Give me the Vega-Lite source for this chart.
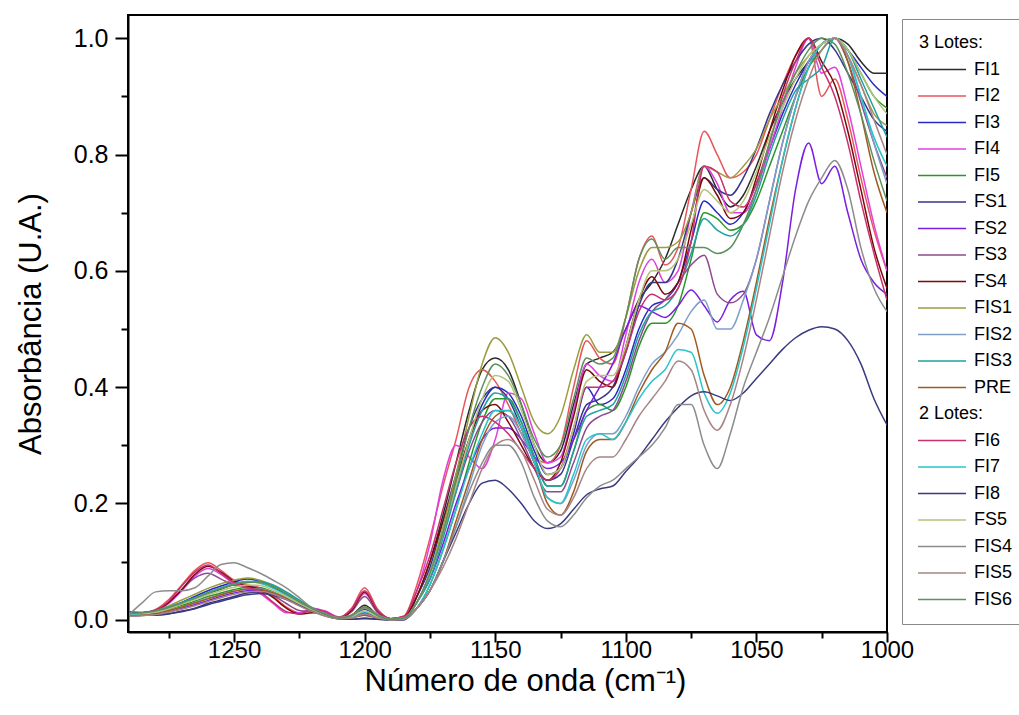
{
"$schema": "https://vega.github.io/schema/vega-lite/v6.json",
"width": 759, "height": 617,
"autosize": {"type": "none"},
"padding": {"left": 128, "top": 15, "right": 132, "bottom": 83},
"background": "white",
"config": {"view": {"stroke": "black", "strokeWidth": 2}, "font": "Liberation Sans"},
"data": {"values": [
{"s":"FI1","x":1290,"y":0.010},{"s":"FI1","x":1285,"y":0.012},{"s":"FI1","x":1280,"y":0.014},{"s":"FI1","x":1275,"y":0.020},{"s":"FI1","x":1270,"y":0.028},{"s":"FI1","x":1265,"y":0.036},{"s":"FI1","x":1260,"y":0.045},{"s":"FI1","x":1255,"y":0.053},{"s":"FI1","x":1250,"y":0.060},{"s":"FI1","x":1245,"y":0.064},{"s":"FI1","x":1240,"y":0.065},{"s":"FI1","x":1235,"y":0.058},{"s":"FI1","x":1230,"y":0.046},{"s":"FI1","x":1225,"y":0.032},{"s":"FI1","x":1220,"y":0.020},{"s":"FI1","x":1215,"y":0.010},{"s":"FI1","x":1210,"y":0.004},{"s":"FI1","x":1205,"y":0.008},{"s":"FI1","x":1200,"y":0.025},{"s":"FI1","x":1195,"y":0.008},{"s":"FI1","x":1190,"y":0.001},{"s":"FI1","x":1185,"y":0.004},{"s":"FI1","x":1180,"y":0.04},{"s":"FI1","x":1175,"y":0.10},{"s":"FI1","x":1170,"y":0.18},{"s":"FI1","x":1165,"y":0.27},{"s":"FI1","x":1160,"y":0.36},{"s":"FI1","x":1155,"y":0.43},{"s":"FI1","x":1150,"y":0.45},{"s":"FI1","x":1145,"y":0.43},{"s":"FI1","x":1140,"y":0.37},{"s":"FI1","x":1135,"y":0.30},{"s":"FI1","x":1130,"y":0.27},{"s":"FI1","x":1125,"y":0.29},{"s":"FI1","x":1120,"y":0.37},{"s":"FI1","x":1115,"y":0.44},{"s":"FI1","x":1110,"y":0.45},{"s":"FI1","x":1105,"y":0.46},{"s":"FI1","x":1100,"y":0.50},{"s":"FI1","x":1095,"y":0.55},{"s":"FI1","x":1090,"y":0.58},{"s":"FI1","x":1085,"y":0.62},{"s":"FI1","x":1080,"y":0.68},{"s":"FI1","x":1075,"y":0.74},{"s":"FI1","x":1070,"y":0.78},{"s":"FI1","x":1065,"y":0.74},{"s":"FI1","x":1060,"y":0.71},{"s":"FI1","x":1055,"y":0.73},{"s":"FI1","x":1050,"y":0.78},{"s":"FI1","x":1045,"y":0.84},{"s":"FI1","x":1040,"y":0.89},{"s":"FI1","x":1035,"y":0.93},{"s":"FI1","x":1030,"y":0.96},{"s":"FI1","x":1025,"y":0.99},{"s":"FI1","x":1020,"y":1.0},{"s":"FI1","x":1015,"y":0.99},{"s":"FI1","x":1010,"y":0.96},{"s":"FI1","x":1005,"y":0.94},{"s":"FI1","x":1000,"y":0.94},
{"s":"FI2","x":1290,"y":0.012},{"s":"FI2","x":1285,"y":0.012},{"s":"FI2","x":1280,"y":0.018},{"s":"FI2","x":1275,"y":0.035},{"s":"FI2","x":1270,"y":0.060},{"s":"FI2","x":1265,"y":0.085},{"s":"FI2","x":1260,"y":0.098},{"s":"FI2","x":1255,"y":0.085},{"s":"FI2","x":1250,"y":0.068},{"s":"FI2","x":1245,"y":0.060},{"s":"FI2","x":1240,"y":0.055},{"s":"FI2","x":1235,"y":0.040},{"s":"FI2","x":1230,"y":0.022},{"s":"FI2","x":1225,"y":0.012},{"s":"FI2","x":1220,"y":0.015},{"s":"FI2","x":1215,"y":0.012},{"s":"FI2","x":1210,"y":0.004},{"s":"FI2","x":1205,"y":0.020},{"s":"FI2","x":1200,"y":0.055},{"s":"FI2","x":1195,"y":0.018},{"s":"FI2","x":1190,"y":0.002},{"s":"FI2","x":1185,"y":0.006},{"s":"FI2","x":1180,"y":0.06},{"s":"FI2","x":1175,"y":0.14},{"s":"FI2","x":1170,"y":0.23},{"s":"FI2","x":1165,"y":0.31},{"s":"FI2","x":1160,"y":0.40},{"s":"FI2","x":1155,"y":0.43},{"s":"FI2","x":1150,"y":0.41},{"s":"FI2","x":1145,"y":0.37},{"s":"FI2","x":1140,"y":0.32},{"s":"FI2","x":1135,"y":0.28},{"s":"FI2","x":1130,"y":0.27},{"s":"FI2","x":1125,"y":0.30},{"s":"FI2","x":1120,"y":0.40},{"s":"FI2","x":1115,"y":0.48},{"s":"FI2","x":1110,"y":0.45},{"s":"FI2","x":1105,"y":0.44},{"s":"FI2","x":1100,"y":0.52},{"s":"FI2","x":1095,"y":0.62},{"s":"FI2","x":1090,"y":0.66},{"s":"FI2","x":1085,"y":0.61},{"s":"FI2","x":1080,"y":0.64},{"s":"FI2","x":1075,"y":0.74},{"s":"FI2","x":1070,"y":0.84},{"s":"FI2","x":1065,"y":0.80},{"s":"FI2","x":1060,"y":0.76},{"s":"FI2","x":1055,"y":0.77},{"s":"FI2","x":1050,"y":0.80},{"s":"FI2","x":1045,"y":0.86},{"s":"FI2","x":1040,"y":0.92},{"s":"FI2","x":1035,"y":0.97},{"s":"FI2","x":1030,"y":1.0},{"s":"FI2","x":1025,"y":0.90},{"s":"FI2","x":1020,"y":0.93},{"s":"FI2","x":1015,"y":0.86},{"s":"FI2","x":1010,"y":0.76},{"s":"FI2","x":1005,"y":0.67},{"s":"FI2","x":1000,"y":0.60},
{"s":"FI3","x":1290,"y":0.008},{"s":"FI3","x":1285,"y":0.010},{"s":"FI3","x":1280,"y":0.015},{"s":"FI3","x":1275,"y":0.022},{"s":"FI3","x":1270,"y":0.030},{"s":"FI3","x":1265,"y":0.040},{"s":"FI3","x":1260,"y":0.050},{"s":"FI3","x":1255,"y":0.058},{"s":"FI3","x":1250,"y":0.065},{"s":"FI3","x":1245,"y":0.070},{"s":"FI3","x":1240,"y":0.066},{"s":"FI3","x":1235,"y":0.056},{"s":"FI3","x":1230,"y":0.044},{"s":"FI3","x":1225,"y":0.030},{"s":"FI3","x":1220,"y":0.018},{"s":"FI3","x":1215,"y":0.008},{"s":"FI3","x":1210,"y":0.003},{"s":"FI3","x":1205,"y":0.006},{"s":"FI3","x":1200,"y":0.018},{"s":"FI3","x":1195,"y":0.006},{"s":"FI3","x":1190,"y":0.001},{"s":"FI3","x":1185,"y":0.003},{"s":"FI3","x":1180,"y":0.03},{"s":"FI3","x":1175,"y":0.08},{"s":"FI3","x":1170,"y":0.15},{"s":"FI3","x":1165,"y":0.23},{"s":"FI3","x":1160,"y":0.31},{"s":"FI3","x":1155,"y":0.37},{"s":"FI3","x":1150,"y":0.40},{"s":"FI3","x":1145,"y":0.39},{"s":"FI3","x":1140,"y":0.35},{"s":"FI3","x":1135,"y":0.29},{"s":"FI3","x":1130,"y":0.25},{"s":"FI3","x":1125,"y":0.26},{"s":"FI3","x":1120,"y":0.32},{"s":"FI3","x":1115,"y":0.40},{"s":"FI3","x":1110,"y":0.37},{"s":"FI3","x":1105,"y":0.38},{"s":"FI3","x":1100,"y":0.43},{"s":"FI3","x":1095,"y":0.50},{"s":"FI3","x":1090,"y":0.54},{"s":"FI3","x":1085,"y":0.55},{"s":"FI3","x":1080,"y":0.58},{"s":"FI3","x":1075,"y":0.65},{"s":"FI3","x":1070,"y":0.72},{"s":"FI3","x":1065,"y":0.70},{"s":"FI3","x":1060,"y":0.68},{"s":"FI3","x":1055,"y":0.70},{"s":"FI3","x":1050,"y":0.75},{"s":"FI3","x":1045,"y":0.81},{"s":"FI3","x":1040,"y":0.87},{"s":"FI3","x":1035,"y":0.92},{"s":"FI3","x":1030,"y":0.96},{"s":"FI3","x":1025,"y":0.99},{"s":"FI3","x":1020,"y":1.0},{"s":"FI3","x":1015,"y":0.98},{"s":"FI3","x":1010,"y":0.95},{"s":"FI3","x":1005,"y":0.92},{"s":"FI3","x":1000,"y":0.90},
{"s":"FI4","x":1290,"y":0.008},{"s":"FI4","x":1285,"y":0.010},{"s":"FI4","x":1280,"y":0.015},{"s":"FI4","x":1275,"y":0.028},{"s":"FI4","x":1270,"y":0.050},{"s":"FI4","x":1265,"y":0.075},{"s":"FI4","x":1260,"y":0.088},{"s":"FI4","x":1255,"y":0.078},{"s":"FI4","x":1250,"y":0.062},{"s":"FI4","x":1245,"y":0.055},{"s":"FI4","x":1240,"y":0.045},{"s":"FI4","x":1235,"y":0.028},{"s":"FI4","x":1230,"y":0.012},{"s":"FI4","x":1225,"y":0.012},{"s":"FI4","x":1220,"y":0.020},{"s":"FI4","x":1215,"y":0.015},{"s":"FI4","x":1210,"y":0.005},{"s":"FI4","x":1205,"y":0.015},{"s":"FI4","x":1200,"y":0.045},{"s":"FI4","x":1195,"y":0.015},{"s":"FI4","x":1190,"y":0.002},{"s":"FI4","x":1185,"y":0.005},{"s":"FI4","x":1180,"y":0.05},{"s":"FI4","x":1175,"y":0.13},{"s":"FI4","x":1170,"y":0.24},{"s":"FI4","x":1165,"y":0.30},{"s":"FI4","x":1160,"y":0.28},{"s":"FI4","x":1155,"y":0.26},{"s":"FI4","x":1150,"y":0.31},{"s":"FI4","x":1145,"y":0.39},{"s":"FI4","x":1140,"y":0.38},{"s":"FI4","x":1135,"y":0.32},{"s":"FI4","x":1130,"y":0.27},{"s":"FI4","x":1125,"y":0.28},{"s":"FI4","x":1120,"y":0.36},{"s":"FI4","x":1115,"y":0.44},{"s":"FI4","x":1110,"y":0.42},{"s":"FI4","x":1105,"y":0.41},{"s":"FI4","x":1100,"y":0.49},{"s":"FI4","x":1095,"y":0.58},{"s":"FI4","x":1090,"y":0.62},{"s":"FI4","x":1085,"y":0.58},{"s":"FI4","x":1080,"y":0.60},{"s":"FI4","x":1075,"y":0.70},{"s":"FI4","x":1070,"y":0.78},{"s":"FI4","x":1065,"y":0.75},{"s":"FI4","x":1060,"y":0.70},{"s":"FI4","x":1055,"y":0.70},{"s":"FI4","x":1050,"y":0.74},{"s":"FI4","x":1045,"y":0.81},{"s":"FI4","x":1040,"y":0.88},{"s":"FI4","x":1035,"y":0.95},{"s":"FI4","x":1030,"y":1.0},{"s":"FI4","x":1025,"y":0.94},{"s":"FI4","x":1020,"y":0.95},{"s":"FI4","x":1015,"y":0.88},{"s":"FI4","x":1010,"y":0.78},{"s":"FI4","x":1005,"y":0.68},{"s":"FI4","x":1000,"y":0.60},
{"s":"FI5","x":1290,"y":0.010},{"s":"FI5","x":1285,"y":0.010},{"s":"FI5","x":1280,"y":0.012},{"s":"FI5","x":1275,"y":0.018},{"s":"FI5","x":1270,"y":0.025},{"s":"FI5","x":1265,"y":0.032},{"s":"FI5","x":1260,"y":0.040},{"s":"FI5","x":1255,"y":0.046},{"s":"FI5","x":1250,"y":0.052},{"s":"FI5","x":1245,"y":0.056},{"s":"FI5","x":1240,"y":0.055},{"s":"FI5","x":1235,"y":0.048},{"s":"FI5","x":1230,"y":0.038},{"s":"FI5","x":1225,"y":0.026},{"s":"FI5","x":1220,"y":0.016},{"s":"FI5","x":1215,"y":0.008},{"s":"FI5","x":1210,"y":0.003},{"s":"FI5","x":1205,"y":0.005},{"s":"FI5","x":1200,"y":0.010},{"s":"FI5","x":1195,"y":0.004},{"s":"FI5","x":1190,"y":0.000},{"s":"FI5","x":1185,"y":0.002},{"s":"FI5","x":1180,"y":0.02},{"s":"FI5","x":1175,"y":0.06},{"s":"FI5","x":1170,"y":0.12},{"s":"FI5","x":1165,"y":0.19},{"s":"FI5","x":1160,"y":0.27},{"s":"FI5","x":1155,"y":0.34},{"s":"FI5","x":1150,"y":0.38},{"s":"FI5","x":1145,"y":0.38},{"s":"FI5","x":1140,"y":0.34},{"s":"FI5","x":1135,"y":0.28},{"s":"FI5","x":1130,"y":0.23},{"s":"FI5","x":1125,"y":0.23},{"s":"FI5","x":1120,"y":0.29},{"s":"FI5","x":1115,"y":0.36},{"s":"FI5","x":1110,"y":0.37},{"s":"FI5","x":1105,"y":0.36},{"s":"FI5","x":1100,"y":0.40},{"s":"FI5","x":1095,"y":0.47},{"s":"FI5","x":1090,"y":0.51},{"s":"FI5","x":1085,"y":0.51},{"s":"FI5","x":1080,"y":0.54},{"s":"FI5","x":1075,"y":0.62},{"s":"FI5","x":1070,"y":0.70},{"s":"FI5","x":1065,"y":0.69},{"s":"FI5","x":1060,"y":0.67},{"s":"FI5","x":1055,"y":0.68},{"s":"FI5","x":1050,"y":0.72},{"s":"FI5","x":1045,"y":0.78},{"s":"FI5","x":1040,"y":0.84},{"s":"FI5","x":1035,"y":0.90},{"s":"FI5","x":1030,"y":0.95},{"s":"FI5","x":1025,"y":0.98},{"s":"FI5","x":1020,"y":1.0},{"s":"FI5","x":1015,"y":0.98},{"s":"FI5","x":1010,"y":0.94},{"s":"FI5","x":1005,"y":0.90},{"s":"FI5","x":1000,"y":0.88},
{"s":"FS1","x":1290,"y":0.012},{"s":"FS1","x":1285,"y":0.010},{"s":"FS1","x":1280,"y":0.008},{"s":"FS1","x":1275,"y":0.010},{"s":"FS1","x":1270,"y":0.015},{"s":"FS1","x":1265,"y":0.020},{"s":"FS1","x":1260,"y":0.028},{"s":"FS1","x":1255,"y":0.034},{"s":"FS1","x":1250,"y":0.040},{"s":"FS1","x":1245,"y":0.046},{"s":"FS1","x":1240,"y":0.048},{"s":"FS1","x":1235,"y":0.044},{"s":"FS1","x":1230,"y":0.036},{"s":"FS1","x":1225,"y":0.026},{"s":"FS1","x":1220,"y":0.016},{"s":"FS1","x":1215,"y":0.008},{"s":"FS1","x":1210,"y":0.002},{"s":"FS1","x":1205,"y":0.001},{"s":"FS1","x":1200,"y":0.003},{"s":"FS1","x":1195,"y":0.001},{"s":"FS1","x":1190,"y":0.000},{"s":"FS1","x":1185,"y":0.000},{"s":"FS1","x":1180,"y":0.04},{"s":"FS1","x":1175,"y":0.09},{"s":"FS1","x":1170,"y":0.17},{"s":"FS1","x":1165,"y":0.25},{"s":"FS1","x":1160,"y":0.33},{"s":"FS1","x":1155,"y":0.38},{"s":"FS1","x":1150,"y":0.40},{"s":"FS1","x":1145,"y":0.38},{"s":"FS1","x":1140,"y":0.33},{"s":"FS1","x":1135,"y":0.27},{"s":"FS1","x":1130,"y":0.24},{"s":"FS1","x":1125,"y":0.25},{"s":"FS1","x":1120,"y":0.31},{"s":"FS1","x":1115,"y":0.37},{"s":"FS1","x":1110,"y":0.38},{"s":"FS1","x":1105,"y":0.40},{"s":"FS1","x":1100,"y":0.46},{"s":"FS1","x":1095,"y":0.54},{"s":"FS1","x":1090,"y":0.58},{"s":"FS1","x":1085,"y":0.58},{"s":"FS1","x":1080,"y":0.62},{"s":"FS1","x":1075,"y":0.70},{"s":"FS1","x":1070,"y":0.76},{"s":"FS1","x":1065,"y":0.74},{"s":"FS1","x":1060,"y":0.73},{"s":"FS1","x":1055,"y":0.76},{"s":"FS1","x":1050,"y":0.81},{"s":"FS1","x":1045,"y":0.87},{"s":"FS1","x":1040,"y":0.92},{"s":"FS1","x":1035,"y":0.96},{"s":"FS1","x":1030,"y":0.99},{"s":"FS1","x":1025,"y":1.0},{"s":"FS1","x":1020,"y":0.98},{"s":"FS1","x":1015,"y":0.94},{"s":"FS1","x":1010,"y":0.90},{"s":"FS1","x":1005,"y":0.86},{"s":"FS1","x":1000,"y":0.84},
{"s":"FS2","x":1290,"y":0.006},{"s":"FS2","x":1285,"y":0.008},{"s":"FS2","x":1280,"y":0.010},{"s":"FS2","x":1275,"y":0.014},{"s":"FS2","x":1270,"y":0.020},{"s":"FS2","x":1265,"y":0.026},{"s":"FS2","x":1260,"y":0.033},{"s":"FS2","x":1255,"y":0.040},{"s":"FS2","x":1250,"y":0.046},{"s":"FS2","x":1245,"y":0.050},{"s":"FS2","x":1240,"y":0.050},{"s":"FS2","x":1235,"y":0.045},{"s":"FS2","x":1230,"y":0.036},{"s":"FS2","x":1225,"y":0.025},{"s":"FS2","x":1220,"y":0.015},{"s":"FS2","x":1215,"y":0.007},{"s":"FS2","x":1210,"y":0.002},{"s":"FS2","x":1205,"y":0.004},{"s":"FS2","x":1200,"y":0.012},{"s":"FS2","x":1195,"y":0.004},{"s":"FS2","x":1190,"y":0.000},{"s":"FS2","x":1185,"y":0.001},{"s":"FS2","x":1180,"y":0.03},{"s":"FS2","x":1175,"y":0.07},{"s":"FS2","x":1170,"y":0.13},{"s":"FS2","x":1165,"y":0.20},{"s":"FS2","x":1160,"y":0.26},{"s":"FS2","x":1155,"y":0.31},{"s":"FS2","x":1150,"y":0.33},{"s":"FS2","x":1145,"y":0.33},{"s":"FS2","x":1140,"y":0.31},{"s":"FS2","x":1135,"y":0.28},{"s":"FS2","x":1130,"y":0.26},{"s":"FS2","x":1125,"y":0.27},{"s":"FS2","x":1120,"y":0.31},{"s":"FS2","x":1115,"y":0.36},{"s":"FS2","x":1110,"y":0.40},{"s":"FS2","x":1105,"y":0.44},{"s":"FS2","x":1100,"y":0.50},{"s":"FS2","x":1095,"y":0.54},{"s":"FS2","x":1090,"y":0.53},{"s":"FS2","x":1085,"y":0.52},{"s":"FS2","x":1080,"y":0.54},{"s":"FS2","x":1075,"y":0.567},{"s":"FS2","x":1070,"y":0.54},{"s":"FS2","x":1065,"y":0.512},{"s":"FS2","x":1060,"y":0.55},{"s":"FS2","x":1055,"y":0.565},{"s":"FS2","x":1050,"y":0.49},{"s":"FS2","x":1045,"y":0.48},{"s":"FS2","x":1040,"y":0.58},{"s":"FS2","x":1035,"y":0.74},{"s":"FS2","x":1030,"y":0.82},{"s":"FS2","x":1025,"y":0.75},{"s":"FS2","x":1020,"y":0.78},{"s":"FS2","x":1015,"y":0.70},{"s":"FS2","x":1010,"y":0.62},{"s":"FS2","x":1005,"y":0.58},{"s":"FS2","x":1000,"y":0.56},
{"s":"FS3","x":1290,"y":0.010},{"s":"FS3","x":1285,"y":0.012},{"s":"FS3","x":1280,"y":0.016},{"s":"FS3","x":1275,"y":0.030},{"s":"FS3","x":1270,"y":0.052},{"s":"FS3","x":1265,"y":0.072},{"s":"FS3","x":1260,"y":0.080},{"s":"FS3","x":1255,"y":0.070},{"s":"FS3","x":1250,"y":0.060},{"s":"FS3","x":1245,"y":0.058},{"s":"FS3","x":1240,"y":0.054},{"s":"FS3","x":1235,"y":0.042},{"s":"FS3","x":1230,"y":0.028},{"s":"FS3","x":1225,"y":0.016},{"s":"FS3","x":1220,"y":0.014},{"s":"FS3","x":1215,"y":0.010},{"s":"FS3","x":1210,"y":0.004},{"s":"FS3","x":1205,"y":0.014},{"s":"FS3","x":1200,"y":0.040},{"s":"FS3","x":1195,"y":0.012},{"s":"FS3","x":1190,"y":0.002},{"s":"FS3","x":1185,"y":0.004},{"s":"FS3","x":1180,"y":0.03},{"s":"FS3","x":1175,"y":0.08},{"s":"FS3","x":1170,"y":0.15},{"s":"FS3","x":1165,"y":0.22},{"s":"FS3","x":1160,"y":0.29},{"s":"FS3","x":1155,"y":0.34},{"s":"FS3","x":1150,"y":0.36},{"s":"FS3","x":1145,"y":0.35},{"s":"FS3","x":1140,"y":0.31},{"s":"FS3","x":1135,"y":0.26},{"s":"FS3","x":1130,"y":0.22},{"s":"FS3","x":1125,"y":0.22},{"s":"FS3","x":1120,"y":0.27},{"s":"FS3","x":1115,"y":0.33},{"s":"FS3","x":1110,"y":0.35},{"s":"FS3","x":1105,"y":0.36},{"s":"FS3","x":1100,"y":0.41},{"s":"FS3","x":1095,"y":0.48},{"s":"FS3","x":1090,"y":0.53},{"s":"FS3","x":1085,"y":0.55},{"s":"FS3","x":1080,"y":0.58},{"s":"FS3","x":1075,"y":0.61},{"s":"FS3","x":1070,"y":0.627},{"s":"FS3","x":1065,"y":0.56},{"s":"FS3","x":1060,"y":0.545},{"s":"FS3","x":1055,"y":0.56},{"s":"FS3","x":1050,"y":0.62},{"s":"FS3","x":1045,"y":0.72},{"s":"FS3","x":1040,"y":0.82},{"s":"FS3","x":1035,"y":0.90},{"s":"FS3","x":1030,"y":0.96},{"s":"FS3","x":1025,"y":0.99},{"s":"FS3","x":1020,"y":1.0},{"s":"FS3","x":1015,"y":0.96},{"s":"FS3","x":1010,"y":0.89},{"s":"FS3","x":1005,"y":0.82},{"s":"FS3","x":1000,"y":0.76},
{"s":"FS4","x":1290,"y":0.010},{"s":"FS4","x":1285,"y":0.012},{"s":"FS4","x":1280,"y":0.016},{"s":"FS4","x":1275,"y":0.030},{"s":"FS4","x":1270,"y":0.052},{"s":"FS4","x":1265,"y":0.078},{"s":"FS4","x":1260,"y":0.092},{"s":"FS4","x":1255,"y":0.082},{"s":"FS4","x":1250,"y":0.066},{"s":"FS4","x":1245,"y":0.058},{"s":"FS4","x":1240,"y":0.052},{"s":"FS4","x":1235,"y":0.038},{"s":"FS4","x":1230,"y":0.020},{"s":"FS4","x":1225,"y":0.010},{"s":"FS4","x":1220,"y":0.012},{"s":"FS4","x":1215,"y":0.010},{"s":"FS4","x":1210,"y":0.003},{"s":"FS4","x":1205,"y":0.016},{"s":"FS4","x":1200,"y":0.048},{"s":"FS4","x":1195,"y":0.015},{"s":"FS4","x":1190,"y":0.002},{"s":"FS4","x":1185,"y":0.005},{"s":"FS4","x":1180,"y":0.04},{"s":"FS4","x":1175,"y":0.10},{"s":"FS4","x":1170,"y":0.17},{"s":"FS4","x":1165,"y":0.24},{"s":"FS4","x":1160,"y":0.31},{"s":"FS4","x":1155,"y":0.36},{"s":"FS4","x":1150,"y":0.37},{"s":"FS4","x":1145,"y":0.34},{"s":"FS4","x":1140,"y":0.30},{"s":"FS4","x":1135,"y":0.26},{"s":"FS4","x":1130,"y":0.24},{"s":"FS4","x":1125,"y":0.27},{"s":"FS4","x":1120,"y":0.35},{"s":"FS4","x":1115,"y":0.43},{"s":"FS4","x":1110,"y":0.41},{"s":"FS4","x":1105,"y":0.40},{"s":"FS4","x":1100,"y":0.47},{"s":"FS4","x":1095,"y":0.55},{"s":"FS4","x":1090,"y":0.59},{"s":"FS4","x":1085,"y":0.56},{"s":"FS4","x":1080,"y":0.58},{"s":"FS4","x":1075,"y":0.67},{"s":"FS4","x":1070,"y":0.76},{"s":"FS4","x":1065,"y":0.73},{"s":"FS4","x":1060,"y":0.69},{"s":"FS4","x":1055,"y":0.70},{"s":"FS4","x":1050,"y":0.76},{"s":"FS4","x":1045,"y":0.84},{"s":"FS4","x":1040,"y":0.91},{"s":"FS4","x":1035,"y":0.97},{"s":"FS4","x":1030,"y":1.0},{"s":"FS4","x":1025,"y":0.96},{"s":"FS4","x":1020,"y":0.92},{"s":"FS4","x":1015,"y":0.84},{"s":"FS4","x":1010,"y":0.74},{"s":"FS4","x":1005,"y":0.64},{"s":"FS4","x":1000,"y":0.57},
{"s":"FIS1","x":1290,"y":0.010},{"s":"FIS1","x":1285,"y":0.012},{"s":"FIS1","x":1280,"y":0.016},{"s":"FIS1","x":1275,"y":0.024},{"s":"FIS1","x":1270,"y":0.034},{"s":"FIS1","x":1265,"y":0.044},{"s":"FIS1","x":1260,"y":0.054},{"s":"FIS1","x":1255,"y":0.062},{"s":"FIS1","x":1250,"y":0.068},{"s":"FIS1","x":1245,"y":0.072},{"s":"FIS1","x":1240,"y":0.068},{"s":"FIS1","x":1235,"y":0.058},{"s":"FIS1","x":1230,"y":0.046},{"s":"FIS1","x":1225,"y":0.032},{"s":"FIS1","x":1220,"y":0.020},{"s":"FIS1","x":1215,"y":0.010},{"s":"FIS1","x":1210,"y":0.004},{"s":"FIS1","x":1205,"y":0.008},{"s":"FIS1","x":1200,"y":0.022},{"s":"FIS1","x":1195,"y":0.008},{"s":"FIS1","x":1190,"y":0.001},{"s":"FIS1","x":1185,"y":0.003},{"s":"FIS1","x":1180,"y":0.03},{"s":"FIS1","x":1175,"y":0.08},{"s":"FIS1","x":1170,"y":0.16},{"s":"FIS1","x":1165,"y":0.25},{"s":"FIS1","x":1160,"y":0.35},{"s":"FIS1","x":1155,"y":0.44},{"s":"FIS1","x":1150,"y":0.485},{"s":"FIS1","x":1145,"y":0.46},{"s":"FIS1","x":1140,"y":0.40},{"s":"FIS1","x":1135,"y":0.34},{"s":"FIS1","x":1130,"y":0.32},{"s":"FIS1","x":1125,"y":0.35},{"s":"FIS1","x":1120,"y":0.43},{"s":"FIS1","x":1115,"y":0.49},{"s":"FIS1","x":1110,"y":0.46},{"s":"FIS1","x":1105,"y":0.46},{"s":"FIS1","x":1100,"y":0.52},{"s":"FIS1","x":1095,"y":0.60},{"s":"FIS1","x":1090,"y":0.64},{"s":"FIS1","x":1085,"y":0.64},{"s":"FIS1","x":1080,"y":0.65},{"s":"FIS1","x":1075,"y":0.70},{"s":"FIS1","x":1070,"y":0.78},{"s":"FIS1","x":1065,"y":0.77},{"s":"FIS1","x":1060,"y":0.76},{"s":"FIS1","x":1055,"y":0.78},{"s":"FIS1","x":1050,"y":0.81},{"s":"FIS1","x":1045,"y":0.86},{"s":"FIS1","x":1040,"y":0.90},{"s":"FIS1","x":1035,"y":0.94},{"s":"FIS1","x":1030,"y":0.97},{"s":"FIS1","x":1025,"y":0.99},{"s":"FIS1","x":1020,"y":1.0},{"s":"FIS1","x":1015,"y":0.97},{"s":"FIS1","x":1010,"y":0.92},{"s":"FIS1","x":1005,"y":0.87},{"s":"FIS1","x":1000,"y":0.85},
{"s":"FIS2","x":1290,"y":0.008},{"s":"FIS2","x":1285,"y":0.009},{"s":"FIS2","x":1280,"y":0.011},{"s":"FIS2","x":1275,"y":0.016},{"s":"FIS2","x":1270,"y":0.022},{"s":"FIS2","x":1265,"y":0.030},{"s":"FIS2","x":1260,"y":0.037},{"s":"FIS2","x":1255,"y":0.043},{"s":"FIS2","x":1250,"y":0.049},{"s":"FIS2","x":1245,"y":0.053},{"s":"FIS2","x":1240,"y":0.053},{"s":"FIS2","x":1235,"y":0.047},{"s":"FIS2","x":1230,"y":0.038},{"s":"FIS2","x":1225,"y":0.027},{"s":"FIS2","x":1220,"y":0.017},{"s":"FIS2","x":1215,"y":0.009},{"s":"FIS2","x":1210,"y":0.003},{"s":"FIS2","x":1205,"y":0.004},{"s":"FIS2","x":1200,"y":0.008},{"s":"FIS2","x":1195,"y":0.003},{"s":"FIS2","x":1190,"y":0.000},{"s":"FIS2","x":1185,"y":0.001},{"s":"FIS2","x":1180,"y":0.02},{"s":"FIS2","x":1175,"y":0.05},{"s":"FIS2","x":1170,"y":0.10},{"s":"FIS2","x":1165,"y":0.16},{"s":"FIS2","x":1160,"y":0.23},{"s":"FIS2","x":1155,"y":0.30},{"s":"FIS2","x":1150,"y":0.34},{"s":"FIS2","x":1145,"y":0.35},{"s":"FIS2","x":1140,"y":0.32},{"s":"FIS2","x":1135,"y":0.27},{"s":"FIS2","x":1130,"y":0.21},{"s":"FIS2","x":1125,"y":0.20},{"s":"FIS2","x":1120,"y":0.24},{"s":"FIS2","x":1115,"y":0.30},{"s":"FIS2","x":1110,"y":0.32},{"s":"FIS2","x":1105,"y":0.32},{"s":"FIS2","x":1100,"y":0.35},{"s":"FIS2","x":1095,"y":0.40},{"s":"FIS2","x":1090,"y":0.44},{"s":"FIS2","x":1085,"y":0.46},{"s":"FIS2","x":1080,"y":0.49},{"s":"FIS2","x":1075,"y":0.53},{"s":"FIS2","x":1070,"y":0.55},{"s":"FIS2","x":1065,"y":0.50},{"s":"FIS2","x":1060,"y":0.50},{"s":"FIS2","x":1055,"y":0.55},{"s":"FIS2","x":1050,"y":0.62},{"s":"FIS2","x":1045,"y":0.72},{"s":"FIS2","x":1040,"y":0.82},{"s":"FIS2","x":1035,"y":0.90},{"s":"FIS2","x":1030,"y":0.96},{"s":"FIS2","x":1025,"y":0.99},{"s":"FIS2","x":1020,"y":1.0},{"s":"FIS2","x":1015,"y":0.97},{"s":"FIS2","x":1010,"y":0.90},{"s":"FIS2","x":1005,"y":0.82},{"s":"FIS2","x":1000,"y":0.75},
{"s":"FIS3","x":1290,"y":0.012},{"s":"FIS3","x":1285,"y":0.013},{"s":"FIS3","x":1280,"y":0.016},{"s":"FIS3","x":1275,"y":0.022},{"s":"FIS3","x":1270,"y":0.030},{"s":"FIS3","x":1265,"y":0.038},{"s":"FIS3","x":1260,"y":0.047},{"s":"FIS3","x":1255,"y":0.055},{"s":"FIS3","x":1250,"y":0.062},{"s":"FIS3","x":1245,"y":0.066},{"s":"FIS3","x":1240,"y":0.066},{"s":"FIS3","x":1235,"y":0.060},{"s":"FIS3","x":1230,"y":0.048},{"s":"FIS3","x":1225,"y":0.034},{"s":"FIS3","x":1220,"y":0.021},{"s":"FIS3","x":1215,"y":0.011},{"s":"FIS3","x":1210,"y":0.004},{"s":"FIS3","x":1205,"y":0.007},{"s":"FIS3","x":1200,"y":0.020},{"s":"FIS3","x":1195,"y":0.007},{"s":"FIS3","x":1190,"y":0.001},{"s":"FIS3","x":1185,"y":0.003},{"s":"FIS3","x":1180,"y":0.03},{"s":"FIS3","x":1175,"y":0.07},{"s":"FIS3","x":1170,"y":0.14},{"s":"FIS3","x":1165,"y":0.22},{"s":"FIS3","x":1160,"y":0.30},{"s":"FIS3","x":1155,"y":0.36},{"s":"FIS3","x":1150,"y":0.39},{"s":"FIS3","x":1145,"y":0.38},{"s":"FIS3","x":1140,"y":0.34},{"s":"FIS3","x":1135,"y":0.28},{"s":"FIS3","x":1130,"y":0.23},{"s":"FIS3","x":1125,"y":0.23},{"s":"FIS3","x":1120,"y":0.29},{"s":"FIS3","x":1115,"y":0.35},{"s":"FIS3","x":1110,"y":0.36},{"s":"FIS3","x":1105,"y":0.37},{"s":"FIS3","x":1100,"y":0.42},{"s":"FIS3","x":1095,"y":0.49},{"s":"FIS3","x":1090,"y":0.53},{"s":"FIS3","x":1085,"y":0.54},{"s":"FIS3","x":1080,"y":0.57},{"s":"FIS3","x":1075,"y":0.63},{"s":"FIS3","x":1070,"y":0.69},{"s":"FIS3","x":1065,"y":0.67},{"s":"FIS3","x":1060,"y":0.66},{"s":"FIS3","x":1055,"y":0.68},{"s":"FIS3","x":1050,"y":0.73},{"s":"FIS3","x":1045,"y":0.80},{"s":"FIS3","x":1040,"y":0.86},{"s":"FIS3","x":1035,"y":0.91},{"s":"FIS3","x":1030,"y":0.93},{"s":"FIS3","x":1025,"y":0.95},{"s":"FIS3","x":1020,"y":1.0},{"s":"FIS3","x":1015,"y":0.98},{"s":"FIS3","x":1010,"y":0.93},{"s":"FIS3","x":1005,"y":0.88},{"s":"FIS3","x":1000,"y":0.83},
{"s":"PRE","x":1290,"y":0.007},{"s":"PRE","x":1285,"y":0.009},{"s":"PRE","x":1280,"y":0.011},{"s":"PRE","x":1275,"y":0.016},{"s":"PRE","x":1270,"y":0.022},{"s":"PRE","x":1265,"y":0.029},{"s":"PRE","x":1260,"y":0.036},{"s":"PRE","x":1255,"y":0.043},{"s":"PRE","x":1250,"y":0.049},{"s":"PRE","x":1245,"y":0.053},{"s":"PRE","x":1240,"y":0.052},{"s":"PRE","x":1235,"y":0.046},{"s":"PRE","x":1230,"y":0.037},{"s":"PRE","x":1225,"y":0.026},{"s":"PRE","x":1220,"y":0.016},{"s":"PRE","x":1215,"y":0.008},{"s":"PRE","x":1210,"y":0.002},{"s":"PRE","x":1205,"y":0.003},{"s":"PRE","x":1200,"y":0.008},{"s":"PRE","x":1195,"y":0.003},{"s":"PRE","x":1190,"y":0.000},{"s":"PRE","x":1185,"y":0.001},{"s":"PRE","x":1180,"y":0.02},{"s":"PRE","x":1175,"y":0.05},{"s":"PRE","x":1170,"y":0.10},{"s":"PRE","x":1165,"y":0.17},{"s":"PRE","x":1160,"y":0.24},{"s":"PRE","x":1155,"y":0.31},{"s":"PRE","x":1150,"y":0.35},{"s":"PRE","x":1145,"y":0.36},{"s":"PRE","x":1140,"y":0.33},{"s":"PRE","x":1135,"y":0.27},{"s":"PRE","x":1130,"y":0.20},{"s":"PRE","x":1125,"y":0.18},{"s":"PRE","x":1120,"y":0.22},{"s":"PRE","x":1115,"y":0.29},{"s":"PRE","x":1110,"y":0.31},{"s":"PRE","x":1105,"y":0.31},{"s":"PRE","x":1100,"y":0.34},{"s":"PRE","x":1095,"y":0.39},{"s":"PRE","x":1090,"y":0.43},{"s":"PRE","x":1085,"y":0.46},{"s":"PRE","x":1080,"y":0.51},{"s":"PRE","x":1075,"y":0.50},{"s":"PRE","x":1070,"y":0.42},{"s":"PRE","x":1065,"y":0.37},{"s":"PRE","x":1060,"y":0.40},{"s":"PRE","x":1055,"y":0.48},{"s":"PRE","x":1050,"y":0.58},{"s":"PRE","x":1045,"y":0.69},{"s":"PRE","x":1040,"y":0.79},{"s":"PRE","x":1035,"y":0.88},{"s":"PRE","x":1030,"y":0.95},{"s":"PRE","x":1025,"y":0.99},{"s":"PRE","x":1020,"y":1.0},{"s":"PRE","x":1015,"y":0.96},{"s":"PRE","x":1010,"y":0.87},{"s":"PRE","x":1005,"y":0.77},{"s":"PRE","x":1000,"y":0.70},
{"s":"FI6","x":1290,"y":0.010},{"s":"FI6","x":1285,"y":0.012},{"s":"FI6","x":1280,"y":0.017},{"s":"FI6","x":1275,"y":0.032},{"s":"FI6","x":1270,"y":0.058},{"s":"FI6","x":1265,"y":0.082},{"s":"FI6","x":1260,"y":0.094},{"s":"FI6","x":1255,"y":0.080},{"s":"FI6","x":1250,"y":0.064},{"s":"FI6","x":1245,"y":0.056},{"s":"FI6","x":1240,"y":0.048},{"s":"FI6","x":1235,"y":0.030},{"s":"FI6","x":1230,"y":0.014},{"s":"FI6","x":1225,"y":0.010},{"s":"FI6","x":1220,"y":0.018},{"s":"FI6","x":1215,"y":0.014},{"s":"FI6","x":1210,"y":0.004},{"s":"FI6","x":1205,"y":0.018},{"s":"FI6","x":1200,"y":0.050},{"s":"FI6","x":1195,"y":0.016},{"s":"FI6","x":1190,"y":0.002},{"s":"FI6","x":1185,"y":0.006},{"s":"FI6","x":1180,"y":0.05},{"s":"FI6","x":1175,"y":0.11},{"s":"FI6","x":1170,"y":0.19},{"s":"FI6","x":1165,"y":0.27},{"s":"FI6","x":1160,"y":0.33},{"s":"FI6","x":1155,"y":0.35},{"s":"FI6","x":1150,"y":0.34},{"s":"FI6","x":1145,"y":0.32},{"s":"FI6","x":1140,"y":0.29},{"s":"FI6","x":1135,"y":0.26},{"s":"FI6","x":1130,"y":0.24},{"s":"FI6","x":1125,"y":0.26},{"s":"FI6","x":1120,"y":0.33},{"s":"FI6","x":1115,"y":0.40},{"s":"FI6","x":1110,"y":0.40},{"s":"FI6","x":1105,"y":0.41},{"s":"FI6","x":1100,"y":0.46},{"s":"FI6","x":1095,"y":0.53},{"s":"FI6","x":1090,"y":0.56},{"s":"FI6","x":1085,"y":0.55},{"s":"FI6","x":1080,"y":0.57},{"s":"FI6","x":1075,"y":0.65},{"s":"FI6","x":1070,"y":0.78},{"s":"FI6","x":1065,"y":0.77},{"s":"FI6","x":1060,"y":0.72},{"s":"FI6","x":1055,"y":0.71},{"s":"FI6","x":1050,"y":0.75},{"s":"FI6","x":1045,"y":0.82},{"s":"FI6","x":1040,"y":0.90},{"s":"FI6","x":1035,"y":0.96},{"s":"FI6","x":1030,"y":1.0},{"s":"FI6","x":1025,"y":0.95},{"s":"FI6","x":1020,"y":0.90},{"s":"FI6","x":1015,"y":0.82},{"s":"FI6","x":1010,"y":0.72},{"s":"FI6","x":1005,"y":0.63},{"s":"FI6","x":1000,"y":0.55},
{"s":"FI7","x":1290,"y":0.009},{"s":"FI7","x":1285,"y":0.011},{"s":"FI7","x":1280,"y":0.014},{"s":"FI7","x":1275,"y":0.020},{"s":"FI7","x":1270,"y":0.028},{"s":"FI7","x":1265,"y":0.037},{"s":"FI7","x":1260,"y":0.046},{"s":"FI7","x":1255,"y":0.054},{"s":"FI7","x":1250,"y":0.061},{"s":"FI7","x":1245,"y":0.066},{"s":"FI7","x":1240,"y":0.063},{"s":"FI7","x":1235,"y":0.054},{"s":"FI7","x":1230,"y":0.042},{"s":"FI7","x":1225,"y":0.029},{"s":"FI7","x":1220,"y":0.017},{"s":"FI7","x":1215,"y":0.008},{"s":"FI7","x":1210,"y":0.003},{"s":"FI7","x":1205,"y":0.005},{"s":"FI7","x":1200,"y":0.014},{"s":"FI7","x":1195,"y":0.005},{"s":"FI7","x":1190,"y":0.001},{"s":"FI7","x":1185,"y":0.002},{"s":"FI7","x":1180,"y":0.02},{"s":"FI7","x":1175,"y":0.06},{"s":"FI7","x":1170,"y":0.12},{"s":"FI7","x":1165,"y":0.19},{"s":"FI7","x":1160,"y":0.26},{"s":"FI7","x":1155,"y":0.32},{"s":"FI7","x":1150,"y":0.36},{"s":"FI7","x":1145,"y":0.36},{"s":"FI7","x":1140,"y":0.33},{"s":"FI7","x":1135,"y":0.27},{"s":"FI7","x":1130,"y":0.21},{"s":"FI7","x":1125,"y":0.20},{"s":"FI7","x":1120,"y":0.25},{"s":"FI7","x":1115,"y":0.31},{"s":"FI7","x":1110,"y":0.32},{"s":"FI7","x":1105,"y":0.31},{"s":"FI7","x":1100,"y":0.34},{"s":"FI7","x":1095,"y":0.38},{"s":"FI7","x":1090,"y":0.41},{"s":"FI7","x":1085,"y":0.43},{"s":"FI7","x":1080,"y":0.465},{"s":"FI7","x":1075,"y":0.46},{"s":"FI7","x":1070,"y":0.39},{"s":"FI7","x":1065,"y":0.355},{"s":"FI7","x":1060,"y":0.39},{"s":"FI7","x":1055,"y":0.47},{"s":"FI7","x":1050,"y":0.57},{"s":"FI7","x":1045,"y":0.68},{"s":"FI7","x":1040,"y":0.79},{"s":"FI7","x":1035,"y":0.88},{"s":"FI7","x":1030,"y":0.95},{"s":"FI7","x":1025,"y":0.99},{"s":"FI7","x":1020,"y":1.0},{"s":"FI7","x":1015,"y":0.97},{"s":"FI7","x":1010,"y":0.90},{"s":"FI7","x":1005,"y":0.83},{"s":"FI7","x":1000,"y":0.78},
{"s":"FI8","x":1290,"y":0.014},{"s":"FI8","x":1285,"y":0.012},{"s":"FI8","x":1280,"y":0.010},{"s":"FI8","x":1275,"y":0.011},{"s":"FI8","x":1270,"y":0.014},{"s":"FI8","x":1265,"y":0.019},{"s":"FI8","x":1260,"y":0.026},{"s":"FI8","x":1255,"y":0.032},{"s":"FI8","x":1250,"y":0.038},{"s":"FI8","x":1245,"y":0.043},{"s":"FI8","x":1240,"y":0.045},{"s":"FI8","x":1235,"y":0.042},{"s":"FI8","x":1230,"y":0.035},{"s":"FI8","x":1225,"y":0.025},{"s":"FI8","x":1220,"y":0.015},{"s":"FI8","x":1215,"y":0.007},{"s":"FI8","x":1210,"y":0.002},{"s":"FI8","x":1205,"y":0.001},{"s":"FI8","x":1200,"y":0.002},{"s":"FI8","x":1195,"y":0.001},{"s":"FI8","x":1190,"y":0.000},{"s":"FI8","x":1185,"y":0.000},{"s":"FI8","x":1180,"y":0.02},{"s":"FI8","x":1175,"y":0.05},{"s":"FI8","x":1170,"y":0.10},{"s":"FI8","x":1165,"y":0.15},{"s":"FI8","x":1160,"y":0.20},{"s":"FI8","x":1155,"y":0.235},{"s":"FI8","x":1150,"y":0.24},{"s":"FI8","x":1145,"y":0.225},{"s":"FI8","x":1140,"y":0.20},{"s":"FI8","x":1135,"y":0.17},{"s":"FI8","x":1130,"y":0.157},{"s":"FI8","x":1125,"y":0.165},{"s":"FI8","x":1120,"y":0.19},{"s":"FI8","x":1115,"y":0.215},{"s":"FI8","x":1110,"y":0.225},{"s":"FI8","x":1105,"y":0.23},{"s":"FI8","x":1100,"y":0.255},{"s":"FI8","x":1095,"y":0.28},{"s":"FI8","x":1090,"y":0.31},{"s":"FI8","x":1085,"y":0.34},{"s":"FI8","x":1080,"y":0.365},{"s":"FI8","x":1075,"y":0.385},{"s":"FI8","x":1070,"y":0.392},{"s":"FI8","x":1065,"y":0.385},{"s":"FI8","x":1060,"y":0.377},{"s":"FI8","x":1055,"y":0.39},{"s":"FI8","x":1050,"y":0.415},{"s":"FI8","x":1045,"y":0.44},{"s":"FI8","x":1040,"y":0.465},{"s":"FI8","x":1035,"y":0.485},{"s":"FI8","x":1030,"y":0.498},{"s":"FI8","x":1025,"y":0.504},{"s":"FI8","x":1020,"y":0.50},{"s":"FI8","x":1015,"y":0.48},{"s":"FI8","x":1010,"y":0.44},{"s":"FI8","x":1005,"y":0.38},{"s":"FI8","x":1000,"y":0.335},
{"s":"FS5","x":1290,"y":0.011},{"s":"FS5","x":1285,"y":0.011},{"s":"FS5","x":1280,"y":0.013},{"s":"FS5","x":1275,"y":0.019},{"s":"FS5","x":1270,"y":0.027},{"s":"FS5","x":1265,"y":0.035},{"s":"FS5","x":1260,"y":0.043},{"s":"FS5","x":1255,"y":0.050},{"s":"FS5","x":1250,"y":0.056},{"s":"FS5","x":1245,"y":0.060},{"s":"FS5","x":1240,"y":0.059},{"s":"FS5","x":1235,"y":0.051},{"s":"FS5","x":1230,"y":0.040},{"s":"FS5","x":1225,"y":0.028},{"s":"FS5","x":1220,"y":0.017},{"s":"FS5","x":1215,"y":0.008},{"s":"FS5","x":1210,"y":0.003},{"s":"FS5","x":1205,"y":0.006},{"s":"FS5","x":1200,"y":0.015},{"s":"FS5","x":1195,"y":0.005},{"s":"FS5","x":1190,"y":0.000},{"s":"FS5","x":1185,"y":0.002},{"s":"FS5","x":1180,"y":0.03},{"s":"FS5","x":1175,"y":0.08},{"s":"FS5","x":1170,"y":0.15},{"s":"FS5","x":1165,"y":0.23},{"s":"FS5","x":1160,"y":0.31},{"s":"FS5","x":1155,"y":0.38},{"s":"FS5","x":1150,"y":0.42},{"s":"FS5","x":1145,"y":0.41},{"s":"FS5","x":1140,"y":0.36},{"s":"FS5","x":1135,"y":0.30},{"s":"FS5","x":1130,"y":0.25},{"s":"FS5","x":1125,"y":0.26},{"s":"FS5","x":1120,"y":0.33},{"s":"FS5","x":1115,"y":0.41},{"s":"FS5","x":1110,"y":0.42},{"s":"FS5","x":1105,"y":0.42},{"s":"FS5","x":1100,"y":0.47},{"s":"FS5","x":1095,"y":0.55},{"s":"FS5","x":1090,"y":0.60},{"s":"FS5","x":1085,"y":0.60},{"s":"FS5","x":1080,"y":0.62},{"s":"FS5","x":1075,"y":0.68},{"s":"FS5","x":1070,"y":0.74},{"s":"FS5","x":1065,"y":0.72},{"s":"FS5","x":1060,"y":0.70},{"s":"FS5","x":1055,"y":0.72},{"s":"FS5","x":1050,"y":0.77},{"s":"FS5","x":1045,"y":0.83},{"s":"FS5","x":1040,"y":0.88},{"s":"FS5","x":1035,"y":0.93},{"s":"FS5","x":1030,"y":0.97},{"s":"FS5","x":1025,"y":0.99},{"s":"FS5","x":1020,"y":1.0},{"s":"FS5","x":1015,"y":0.98},{"s":"FS5","x":1010,"y":0.94},{"s":"FS5","x":1005,"y":0.90},{"s":"FS5","x":1000,"y":0.87},
{"s":"FIS4","x":1290,"y":0.010},{"s":"FIS4","x":1285,"y":0.030},{"s":"FIS4","x":1280,"y":0.048},{"s":"FIS4","x":1275,"y":0.050},{"s":"FIS4","x":1270,"y":0.050},{"s":"FIS4","x":1265,"y":0.055},{"s":"FIS4","x":1260,"y":0.075},{"s":"FIS4","x":1255,"y":0.095},{"s":"FIS4","x":1250,"y":0.098},{"s":"FIS4","x":1245,"y":0.090},{"s":"FIS4","x":1240,"y":0.080},{"s":"FIS4","x":1235,"y":0.068},{"s":"FIS4","x":1230,"y":0.055},{"s":"FIS4","x":1225,"y":0.038},{"s":"FIS4","x":1220,"y":0.020},{"s":"FIS4","x":1215,"y":0.010},{"s":"FIS4","x":1210,"y":0.004},{"s":"FIS4","x":1205,"y":0.008},{"s":"FIS4","x":1200,"y":0.020},{"s":"FIS4","x":1195,"y":0.008},{"s":"FIS4","x":1190,"y":0.002},{"s":"FIS4","x":1185,"y":0.004},{"s":"FIS4","x":1180,"y":0.02},{"s":"FIS4","x":1175,"y":0.05},{"s":"FIS4","x":1170,"y":0.10},{"s":"FIS4","x":1165,"y":0.16},{"s":"FIS4","x":1160,"y":0.22},{"s":"FIS4","x":1155,"y":0.27},{"s":"FIS4","x":1150,"y":0.30},{"s":"FIS4","x":1145,"y":0.30},{"s":"FIS4","x":1140,"y":0.27},{"s":"FIS4","x":1135,"y":0.21},{"s":"FIS4","x":1130,"y":0.17},{"s":"FIS4","x":1125,"y":0.16},{"s":"FIS4","x":1120,"y":0.18},{"s":"FIS4","x":1115,"y":0.21},{"s":"FIS4","x":1110,"y":0.23},{"s":"FIS4","x":1105,"y":0.24},{"s":"FIS4","x":1100,"y":0.26},{"s":"FIS4","x":1095,"y":0.28},{"s":"FIS4","x":1090,"y":0.30},{"s":"FIS4","x":1085,"y":0.33},{"s":"FIS4","x":1080,"y":0.37},{"s":"FIS4","x":1075,"y":0.37},{"s":"FIS4","x":1070,"y":0.30},{"s":"FIS4","x":1065,"y":0.26},{"s":"FIS4","x":1060,"y":0.32},{"s":"FIS4","x":1055,"y":0.40},{"s":"FIS4","x":1050,"y":0.46},{"s":"FIS4","x":1045,"y":0.52},{"s":"FIS4","x":1040,"y":0.59},{"s":"FIS4","x":1035,"y":0.66},{"s":"FIS4","x":1030,"y":0.72},{"s":"FIS4","x":1025,"y":0.76},{"s":"FIS4","x":1020,"y":0.79},{"s":"FIS4","x":1015,"y":0.74},{"s":"FIS4","x":1010,"y":0.64},{"s":"FIS4","x":1005,"y":0.57},{"s":"FIS4","x":1000,"y":0.53},
{"s":"FIS5","x":1290,"y":0.006},{"s":"FIS5","x":1285,"y":0.007},{"s":"FIS5","x":1280,"y":0.009},{"s":"FIS5","x":1275,"y":0.013},{"s":"FIS5","x":1270,"y":0.018},{"s":"FIS5","x":1265,"y":0.024},{"s":"FIS5","x":1260,"y":0.031},{"s":"FIS5","x":1255,"y":0.038},{"s":"FIS5","x":1250,"y":0.044},{"s":"FIS5","x":1245,"y":0.048},{"s":"FIS5","x":1240,"y":0.049},{"s":"FIS5","x":1235,"y":0.044},{"s":"FIS5","x":1230,"y":0.035},{"s":"FIS5","x":1225,"y":0.024},{"s":"FIS5","x":1220,"y":0.014},{"s":"FIS5","x":1215,"y":0.006},{"s":"FIS5","x":1210,"y":0.002},{"s":"FIS5","x":1205,"y":0.003},{"s":"FIS5","x":1200,"y":0.010},{"s":"FIS5","x":1195,"y":0.003},{"s":"FIS5","x":1190,"y":0.000},{"s":"FIS5","x":1185,"y":0.001},{"s":"FIS5","x":1180,"y":0.02},{"s":"FIS5","x":1175,"y":0.05},{"s":"FIS5","x":1170,"y":0.09},{"s":"FIS5","x":1165,"y":0.14},{"s":"FIS5","x":1160,"y":0.20},{"s":"FIS5","x":1155,"y":0.26},{"s":"FIS5","x":1150,"y":0.30},{"s":"FIS5","x":1145,"y":0.31},{"s":"FIS5","x":1140,"y":0.29},{"s":"FIS5","x":1135,"y":0.24},{"s":"FIS5","x":1130,"y":0.19},{"s":"FIS5","x":1125,"y":0.18},{"s":"FIS5","x":1120,"y":0.21},{"s":"FIS5","x":1115,"y":0.26},{"s":"FIS5","x":1110,"y":0.28},{"s":"FIS5","x":1105,"y":0.28},{"s":"FIS5","x":1100,"y":0.31},{"s":"FIS5","x":1095,"y":0.35},{"s":"FIS5","x":1090,"y":0.38},{"s":"FIS5","x":1085,"y":0.41},{"s":"FIS5","x":1080,"y":0.445},{"s":"FIS5","x":1075,"y":0.43},{"s":"FIS5","x":1070,"y":0.36},{"s":"FIS5","x":1065,"y":0.326},{"s":"FIS5","x":1060,"y":0.37},{"s":"FIS5","x":1055,"y":0.45},{"s":"FIS5","x":1050,"y":0.55},{"s":"FIS5","x":1045,"y":0.66},{"s":"FIS5","x":1040,"y":0.77},{"s":"FIS5","x":1035,"y":0.86},{"s":"FIS5","x":1030,"y":0.93},{"s":"FIS5","x":1025,"y":0.98},{"s":"FIS5","x":1020,"y":1.0},{"s":"FIS5","x":1015,"y":0.97},{"s":"FIS5","x":1010,"y":0.92},{"s":"FIS5","x":1005,"y":0.86},{"s":"FIS5","x":1000,"y":0.80},
{"s":"FIS6","x":1290,"y":0.011},{"s":"FIS6","x":1285,"y":0.012},{"s":"FIS6","x":1280,"y":0.015},{"s":"FIS6","x":1275,"y":0.021},{"s":"FIS6","x":1270,"y":0.029},{"s":"FIS6","x":1265,"y":0.037},{"s":"FIS6","x":1260,"y":0.046},{"s":"FIS6","x":1255,"y":0.054},{"s":"FIS6","x":1250,"y":0.061},{"s":"FIS6","x":1245,"y":0.065},{"s":"FIS6","x":1240,"y":0.064},{"s":"FIS6","x":1235,"y":0.057},{"s":"FIS6","x":1230,"y":0.045},{"s":"FIS6","x":1225,"y":0.031},{"s":"FIS6","x":1220,"y":0.019},{"s":"FIS6","x":1215,"y":0.009},{"s":"FIS6","x":1210,"y":0.003},{"s":"FIS6","x":1205,"y":0.007},{"s":"FIS6","x":1200,"y":0.022},{"s":"FIS6","x":1195,"y":0.007},{"s":"FIS6","x":1190,"y":0.001},{"s":"FIS6","x":1185,"y":0.003},{"s":"FIS6","x":1180,"y":0.03},{"s":"FIS6","x":1175,"y":0.08},{"s":"FIS6","x":1170,"y":0.15},{"s":"FIS6","x":1165,"y":0.24},{"s":"FIS6","x":1160,"y":0.33},{"s":"FIS6","x":1155,"y":0.40},{"s":"FIS6","x":1150,"y":0.44},{"s":"FIS6","x":1145,"y":0.42},{"s":"FIS6","x":1140,"y":0.37},{"s":"FIS6","x":1135,"y":0.31},{"s":"FIS6","x":1130,"y":0.28},{"s":"FIS6","x":1125,"y":0.30},{"s":"FIS6","x":1120,"y":0.38},{"s":"FIS6","x":1115,"y":0.45},{"s":"FIS6","x":1110,"y":0.44},{"s":"FIS6","x":1105,"y":0.45},{"s":"FIS6","x":1100,"y":0.52},{"s":"FIS6","x":1095,"y":0.62},{"s":"FIS6","x":1090,"y":0.655},{"s":"FIS6","x":1085,"y":0.62},{"s":"FIS6","x":1080,"y":0.64},{"s":"FIS6","x":1075,"y":0.64},{"s":"FIS6","x":1070,"y":0.64},{"s":"FIS6","x":1065,"y":0.63},{"s":"FIS6","x":1060,"y":0.64},{"s":"FIS6","x":1055,"y":0.68},{"s":"FIS6","x":1050,"y":0.74},{"s":"FIS6","x":1045,"y":0.82},{"s":"FIS6","x":1040,"y":0.89},{"s":"FIS6","x":1035,"y":0.94},{"s":"FIS6","x":1030,"y":0.98},{"s":"FIS6","x":1025,"y":1.0},{"s":"FIS6","x":1020,"y":0.99},{"s":"FIS6","x":1015,"y":0.94},{"s":"FIS6","x":1010,"y":0.87},{"s":"FIS6","x":1005,"y":0.79},{"s":"FIS6","x":1000,"y":0.72}
]},
"mark": {"type": "line", "interpolate": "monotone", "strokeWidth": 1.5, "clip": true},
"encoding": {
  "x": {"field": "x", "type": "quantitative",
    "scale": {"domain": [1000, 1290.6], "reverse": true, "nice": false, "zero": false},
    "axis": {"title": "Número de onda (cm⁻¹)", "titleFontSize": 31, "titleFontWeight": "normal", "titleColor": "black", "titlePadding": 4, "titleX": 397,
      "values": [1275,1250,1225,1200,1175,1150,1125,1100,1075,1050,1025,1000],
      "labelExpr": "datum.value % 50 == 0 ? format(datum.value, 'd') : ''",
      "labelFontSize": 24, "labelColor": "black", "labelPadding": -4, "labelOverlap": false, "labelFlush": false,
      "tickSize": {"condition": {"test": "datum.value % 50 == 0", "value": 10}, "value": 6},
      "tickColor": "black", "tickWidth": 2, "domainColor": "black", "domainWidth": 2, "grid": false}},
  "y": {"field": "y", "type": "quantitative",
    "scale": {"domain": [-0.021, 1.04], "nice": false, "zero": false},
    "axis": {"title": "Absorbância (U.A.)", "titleFontSize": 31, "titleFontWeight": "normal", "titleColor": "black", "titlePadding": 26,
      "values": [0, 0.1, 0.2, 0.3, 0.4, 0.5, 0.6, 0.7, 0.8, 0.9, 1.0],
      "labelExpr": "round(datum.value*10) % 2 == 0 ? format(datum.value, '.1f') : ''",
      "labelFontSize": 25, "labelColor": "black", "labelPadding": 7, "labelOverlap": false, "labelFlush": false,
      "tickSize": {"condition": {"test": "round(datum.value*10) % 2 == 0", "value": 13}, "value": 7},
      "tickColor": "black", "tickWidth": 2, "domainColor": "black", "domainWidth": 2, "grid": false}},
  "color": {"field": "s", "type": "nominal",
    "scale": {"domain": ["3 Lotes:","FI1","FI2","FI3","FI4","FI5","FS1","FS2","FS3","FS4","FIS1","FIS2","FIS3","PRE","2 Lotes:","FI6","FI7","FI8","FS5","FIS4","FIS5","FIS6"],
      "range": ["transparent","#2b2b2b","#e8555a","#2a2ac0","#e040e0","#2a962a","#35358a","#7a1ee0","#8e4a8e","#7a0a0a","#9c9c40","#7f9fc8","#20a0a0","#a05a20","transparent","#c8306e","#28c4cc","#3a3a80","#b4c478","#8c8c8c","#a88484","#5e905e"]},
    "legend": {"title": null, "orient": "none", "legendX": 774, "legendY": 4, "padding": 15, "strokeColor": "#888888",
      "symbolType": "stroke", "symbolSize": 2304, "symbolStrokeWidth": 1.5, "clipHeight": 18, "rowPadding": 8.5,
      "labelFontSize": 18, "labelColor": "black", "labelOffset": 7, "symbolLimit": 40, "labelLimit": 200,
      "encode": {"labels": {"update": {"dx": {"signal": "datum.value === '3 Lotes:' || datum.value === '2 Lotes:' ? -55 : 0"}}}}}}
}
}
